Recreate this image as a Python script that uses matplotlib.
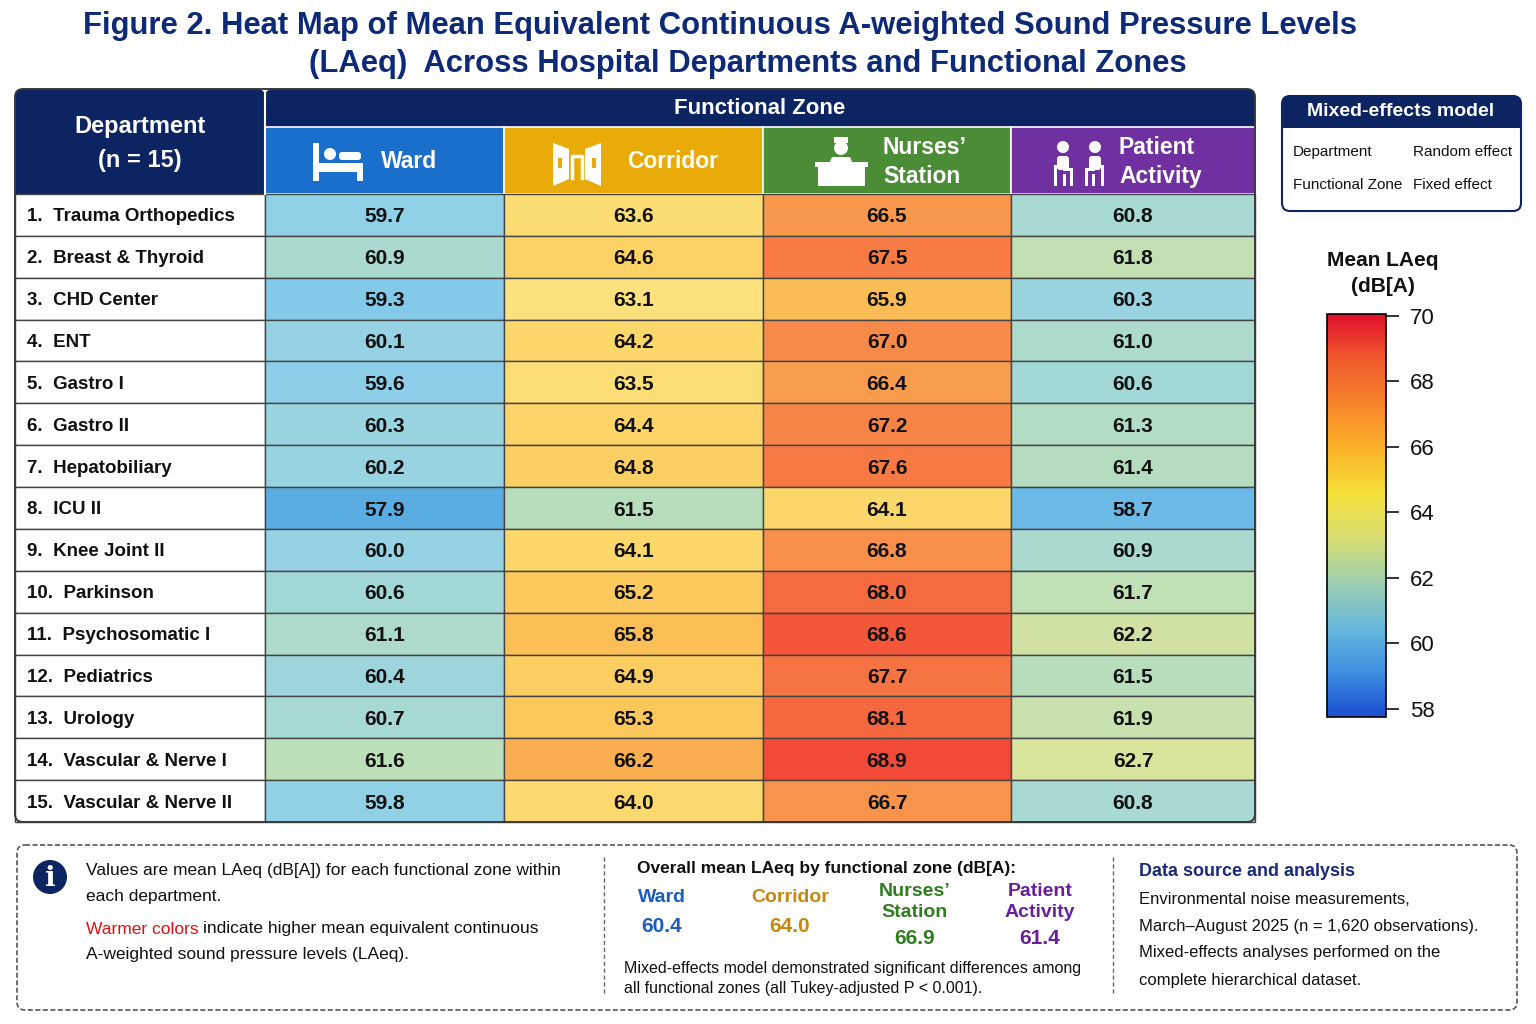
import numpy as np
import matplotlib
matplotlib.use("Agg")
import matplotlib.pyplot as plt
from matplotlib.patches import Rectangle, FancyBboxPatch, Circle, Polygon
from matplotlib.colors import LinearSegmentedColormap, Normalize
import matplotlib.colorbar as mcolorbar

plt.rcParams['font.family'] = ['Liberation Sans', 'DejaVu Sans']

# ---- data ----
departments = ["1.  Trauma Orthopedics", "2.  Breast & Thyroid", "3.  CHD Center", "4.  ENT",
               "5.  Gastro I", "6.  Gastro II", "7.  Hepatobiliary", "8.  ICU II",
               "9.  Knee Joint II", "10.  Parkinson", "11.  Psychosomatic I", "12.  Pediatrics",
               "13.  Urology", "14.  Vascular & Nerve I", "15.  Vascular & Nerve II"]
zones = ["Ward", "Corridor", "Nurses’\nStation", "Patient\nActivity"]
ward = [59.7, 60.9, 59.3, 60.1, 59.6, 60.3, 60.2, 57.9, 60.0, 60.6, 61.1, 60.4, 60.7, 61.6, 59.8]
corridor = [63.6, 64.6, 63.1, 64.2, 63.5, 64.4, 64.8, 61.5, 64.1, 65.2, 65.8, 64.9, 65.3, 66.2, 64.0]
nurses = [66.5, 67.5, 65.9, 67.0, 66.4, 67.2, 67.6, 64.1, 66.8, 68.0, 68.6, 67.7, 68.1, 68.9, 66.7]
patient = [60.8, 61.8, 60.3, 61.0, 60.6, 61.3, 61.4, 58.7, 60.9, 61.7, 62.2, 61.5, 61.9, 62.7, 60.8]
overall_means = [60.4, 64.0, 66.9, 61.4]
cbar_ticks = [58, 60, 62, 64, 66, 68, 70]

values = np.array([ward, corridor, nurses, patient]).T

NAVY = "#0c2461"
zone_head_colors = ["#1a6fcc", "#e9ab08", "#4a8d36", "#7030a0"]
zone_text_colors = ["#1a5cc0", "#c8860a", "#2e7d1e", "#6a1f9a"]

# pastel map used for cells
cell_anchors = [(57.9, "#5aade3"), (58.7, "#6cb9e6"), (59.5, "#8ccfe9"), (60.2, "#98d3e2"),
                (60.7, "#a6d8d4"), (61.2, "#b0dbc8"), (61.6, "#bcdeb8"), (62.2, "#cfe2a4"),
                (62.7, "#d9e49c"), (63.0, "#fce27e"), (64.2, "#fcd76a"), (65.2, "#fcc95c"),
                (65.9, "#fbbd55"), (66.2, "#f9b250"), (66.4, "#f89c4e"), (67.5, "#f77c45"),
                (68.6, "#f4583a"), (68.9, "#f24a36")]
lo, hi = cell_anchors[0][0], cell_anchors[-1][0]
cell_cmap = LinearSegmentedColormap.from_list(
    "cells", [((v - lo) / (hi - lo), c) for v, c in cell_anchors])
cell_norm = Normalize(lo, hi)

# saturated map used for the colorbar
bar_cmap = LinearSegmentedColormap.from_list(
    "bar", ["#1a4fd0", "#3d8fe0", "#68b8dc", "#9fcfb0", "#d6dd70", "#f5e03a",
            "#fab22a", "#f7852a", "#f05a2e", "#e0102a"])

fig = plt.figure(figsize=(15.36, 10.24), dpi=100)
ax = fig.add_axes([0, 0, 1, 1])
ax.set_xlim(0, 1536)
ax.set_ylim(1024, 0)
ax.axis("off")

# ---- title ----
ax.text(720, 26, "Figure 2. Heat Map of Mean Equivalent Continuous A-weighted Sound Pressure Levels",
        ha="center", va="center", fontsize=22.3, fontweight="bold", color="#0d2a78")
ax.text(748, 64, "(LAeq)  Across Hospital Departments and Functional Zones",
        ha="center", va="center", fontsize=22.3, fontweight="bold", color="#0d2a78")

# ---- table geometry ----
x_left, x_dept = 15, 265
col_edges = [265, 504, 763, 1011, 1255]
y_top, y_zone, y_rows = 89, 127, 194
y_bottom = 822
row_h = (y_bottom - y_rows) / len(departments)

# header backgrounds
ax.add_patch(FancyBboxPatch((x_left, y_top), x_dept - x_left, y_rows - y_top + 8,
                            boxstyle="round,pad=0,rounding_size=8", fc=NAVY, ec="none", zorder=1))
ax.add_patch(FancyBboxPatch((x_dept, y_top), col_edges[-1] - x_dept, y_zone - y_top + 8,
                            boxstyle="round,pad=0,rounding_size=8", fc=NAVY, ec="none", zorder=1))
ax.add_patch(Rectangle((x_left, y_rows - 2), x_dept - x_left, 4, fc=NAVY, ec="none", zorder=1))
for j, c in enumerate(zone_head_colors):
    ax.add_patch(Rectangle((col_edges[j], y_zone), col_edges[j + 1] - col_edges[j], y_rows - y_zone,
                           fc=c, ec="white", lw=1.2, zorder=2))

ax.text((x_left + x_dept) / 2, 126, "Department", ha="center", va="center",
        fontsize=17, fontweight="bold", color="white", zorder=3)
ax.text((x_left + x_dept) / 2, 160, "(n = 15)", ha="center", va="center",
        fontsize=17, fontweight="bold", color="white", zorder=3)
ax.text((x_dept + col_edges[-1]) / 2, 108, "Functional Zone", ha="center", va="center",
        fontsize=16, fontweight="bold", color="white", zorder=3)

text_x = [381, 627, 883, 1119]
for j, z in enumerate(zones):
    ax.text(text_x[j], 162, z, ha="left", va="center", fontsize=16.5, fontweight="bold",
            color="white", linespacing=1.35, zorder=3)

W = dict(fc="white", ec="none", zorder=4)
# bed icon
ax.add_patch(Rectangle((313, 143), 6, 38, **W))
ax.add_patch(Rectangle((313, 163), 50, 9, **W))
ax.add_patch(Rectangle((357, 163), 6, 18, **W))
ax.add_patch(Circle((330, 154), 6, **W))
ax.add_patch(FancyBboxPatch((339, 152), 22, 8, boxstyle="round,pad=0,rounding_size=3", **W))
# doors icon
ax.add_patch(Polygon([(553, 143), (569, 149), (569, 179), (553, 186)], closed=True, **W))
ax.add_patch(Polygon([(601, 143), (585, 149), (585, 179), (601, 186)], closed=True, **W))
ax.add_patch(Rectangle((558, 158), 4, 10, fc=zone_head_colors[1], ec="none", zorder=5))
ax.add_patch(Rectangle((592, 158), 4, 10, fc=zone_head_colors[1], ec="none", zorder=5))
ax.plot([572, 572, 582, 582], [178, 156, 156, 178], color="white", lw=2.5, zorder=4)
# nurse icon
ax.add_patch(Circle((841, 148), 7, **W))
ax.add_patch(Rectangle((834, 137), 14, 6, **W))
ax.add_patch(Polygon([(829, 164), (832, 157), (850, 157), (853, 164)], closed=True, **W))
ax.add_patch(Rectangle((815, 162), 53, 5, **W))
ax.add_patch(Rectangle((818, 167), 47, 19, **W))
# patient activity icon
for hx, sgn in ((1063, 1), (1095, -1)):
    ax.add_patch(Circle((hx, 147), 6, **W))
    ax.add_patch(FancyBboxPatch((hx - 6, 156), 12, 14, boxstyle="round,pad=0,rounding_size=3", **W))
    ax.add_patch(Rectangle((hx - 6 * sgn - (3 if sgn > 0 else 0), 165), 3, 21, **W))
    ax.add_patch(Rectangle((hx + (0 if sgn > 0 else -10), 168), 10, 3, **W))
    ax.add_patch(Rectangle((hx + (7 if sgn > 0 else -10), 170), 3, 16, **W))
    ax.add_patch(Rectangle((hx + (0 if sgn > 0 else -3), 174), 3, 12, **W))

# ---- cells ----
for i, dept in enumerate(departments):
    y0 = y_rows + i * row_h
    ax.add_patch(Rectangle((x_left, y0), x_dept - x_left, row_h, fc="white", ec="#444444",
                           lw=1.0, zorder=2))
    ax.text(27, y0 + row_h / 2 + 2, dept, ha="left", va="center", fontsize=13.5,
            fontweight="bold", color="#111111", zorder=3)
    for j in range(4):
        v = values[i, j]
        ax.add_patch(Rectangle((col_edges[j], y0), col_edges[j + 1] - col_edges[j], row_h,
                               fc=cell_cmap(cell_norm(v)), ec="#444444", lw=1.0, zorder=2))
        ax.text((col_edges[j] + col_edges[j + 1]) / 2, y0 + row_h / 2 + 2, f"{v:.1f}",
                ha="center", va="center", fontsize=15, fontweight="bold", color="#111111", zorder=3)

ax.add_patch(FancyBboxPatch((x_left, y_top), col_edges[-1] - x_left, y_bottom - y_top,
                            boxstyle="round,pad=0,rounding_size=8", fc="none", ec="#3a3a3a",
                            lw=1.4, zorder=6))
ax.plot([x_dept, x_dept], [y_top, y_rows], color="white", lw=1.5, zorder=3)

# ---- mixed-effects model box ----
ax.add_patch(FancyBboxPatch((1282, 96), 239, 115, boxstyle="round,pad=0,rounding_size=8",
                            fc="white", ec=NAVY, lw=1.5, zorder=2))
ax.add_patch(FancyBboxPatch((1282, 96), 239, 32, boxstyle="round,pad=0,rounding_size=8",
                            fc=NAVY, ec="none", zorder=3))
ax.add_patch(Rectangle((1282, 118), 239, 10, fc=NAVY, ec="none", zorder=3))
ax.text(1401, 112, "Mixed-effects model", ha="center", va="center", fontsize=14,
        fontweight="bold", color="white", zorder=4)
model_rows = [("Department", "Random effect"), ("Functional Zone", "Fixed effect")]
for k, (a, b) in enumerate(model_rows):
    ax.text(1293, 152 + 33 * k, a, ha="left", va="center", fontsize=11, color="#111111", zorder=4)
    ax.text(1413, 152 + 33 * k, b, ha="left", va="center", fontsize=11, color="#111111", zorder=4)

# ---- colorbar ----
ax.text(1383, 260, "Mean LAeq", ha="center", va="center", fontsize=15, fontweight="bold", color="#111111")
ax.text(1383, 287, "(dB[A)", ha="center", va="center", fontsize=15, fontweight="bold", color="#111111")
cax = fig.add_axes([1327 / 1536, 1 - 717 / 1024, 59 / 1536, 403 / 1024])
cb = mcolorbar.ColorbarBase(cax, cmap=bar_cmap, norm=Normalize(57.75, 70.05), orientation="vertical")
cb.set_ticks(cbar_ticks)
cb.ax.tick_params(labelsize=16, length=9, width=1.2, pad=8, colors="#111111")
cb.outline.set_linewidth(1.2)

# ---- footer ----
ax.add_patch(FancyBboxPatch((17, 845), 1500, 165, boxstyle="round,pad=0,rounding_size=8",
                            fc="white", ec="#555555", lw=1.2, ls=(0, (3, 1.5)), zorder=1))
for xd in (604, 1113):
    ax.plot([xd, xd], [857, 995], color="#666666", lw=1, ls=(0, (3, 2)), zorder=2)
ax.add_patch(Circle((50, 877), 17, fc=NAVY, ec="none", zorder=3))
ax.text(50, 878, "i", ha="center", va="center", fontsize=20, fontweight="bold",
        color="white", family="DejaVu Serif", zorder=4)
fs = 12.5
ax.text(86, 871, "Values are mean LAeq (dB[A]) for each functional zone within", ha="left",
        va="center", fontsize=fs, color="#111111")
ax.text(86, 897, "each department.", ha="left", va="center", fontsize=fs, color="#111111")
t = ax.text(86, 929, "Warmer colors", ha="left", va="center", fontsize=fs, color="#e01010")
fig.canvas.draw()
bb = t.get_window_extent()
ax.text(86 + bb.width + 4, 929, "indicate higher mean equivalent continuous", ha="left",
        va="center", fontsize=fs, color="#111111")
ax.text(86, 954, "A-weighted sound pressure levels (LAeq).", ha="left", va="center",
        fontsize=fs, color="#111111")

ax.text(637, 868, "Overall mean LAeq by functional zone (dB[A):", ha="left", va="center",
        fontsize=12.5, fontweight="bold", color="#111111")
mean_x = [662, 790, 915, 1040]
for j, z in enumerate(zones):
    two = "\n" in z
    ax.text(mean_x[j], 902 if two else 898, z, ha="center", va="center", fontsize=14,
            fontweight="bold", color=zone_text_colors[j], linespacing=1.25)
    ax.text(mean_x[j], 938 if two else 926, f"{overall_means[j]:.1f}", ha="center", va="center",
            fontsize=15, fontweight="bold", color=zone_text_colors[j])
ax.text(624, 968, "Mixed-effects model demonstrated significant differences among", ha="left",
        va="center", fontsize=11.5, color="#111111")
ax.text(624, 989, "all functional zones (all Tukey-adjusted P < 0.001).", ha="left",
        va="center", fontsize=11.5, color="#111111")

ax.text(1139, 871, "Data source and analysis", ha="left", va="center", fontsize=13,
        fontweight="bold", color="#1a2a7a")
src_lines = ["Environmental noise measurements,",
             "March–August 2025 (n = 1,620 observations).",
             "Mixed-effects analyses performed on the",
             "complete hierarchical dataset."]
for k, line in enumerate(src_lines):
    ax.text(1139, 899 + 27 * k, line, ha="left", va="center", fontsize=12, color="#111111")

fig.savefig("out.png", dpi=100)
